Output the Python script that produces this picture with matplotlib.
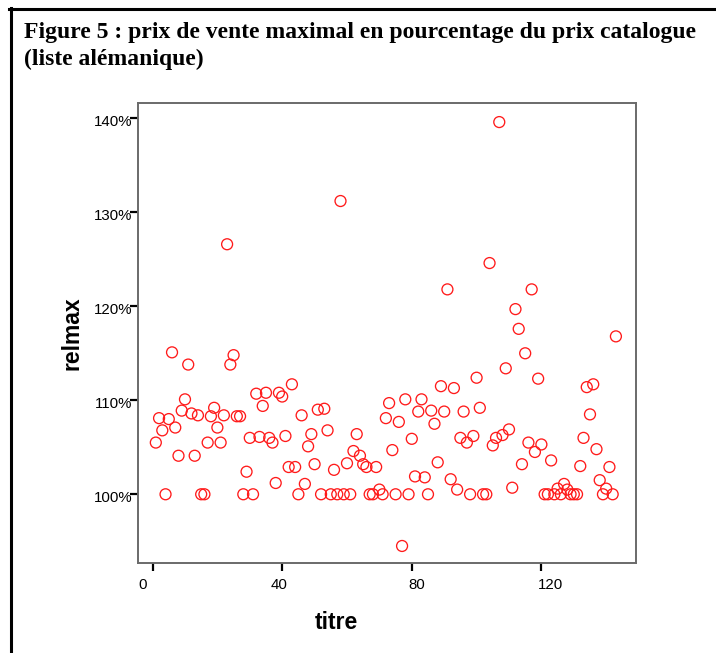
import matplotlib
matplotlib.use("Agg")
import matplotlib.pyplot as plt
from matplotlib.lines import Line2D
from matplotlib.transforms import ScaledTranslation
from matplotlib.ticker import FixedLocator, FuncFormatter

# ---------------- data ----------------
title_line1 = "Figure 5 : prix de vente maximal en pourcentage du prix catalogue"
title_line2 = "(liste alémanique)"
x_label = "titre"
y_label = "relmax"

relmax = [
    105.5, 108.1, 106.8, 100.0, 108.0, 115.1, 107.1, 104.1, 108.9, 110.1,
    113.8, 108.6, 104.1, 108.4, 100.0, 100.0, 105.5, 108.3, 109.2, 107.1,
    105.5, 108.4, 126.6, 113.8, 114.8, 108.3, 108.3, 100.0, 102.4, 106.0,
    100.0, 110.7, 106.1, 109.4, 110.8, 106.0, 105.5, 101.2, 110.8, 110.4,
    106.2, 102.9, 111.7, 102.9, 100.0, 108.4, 101.1, 105.1, 106.4, 103.2,
    109.0, 100.0, 109.1, 106.8, 100.0, 102.6, 100.0, 131.2, 100.0, 103.3,
    100.0, 104.6, 106.4, 104.1, 103.2, 102.9, 100.0, 100.0, 102.9, 100.5,
    100.0, 108.1, 109.7, 104.7, 100.0, 107.7, 94.5, 110.1, 100.0, 105.9,
    101.9, 108.8, 110.1, 101.8, 100.0, 108.9, 107.5, 103.4, 111.5, 108.8,
    121.8, 101.6, 111.3, 100.5, 106.0, 108.8, 105.5, 100.0, 106.2, 112.4,
    109.2, 100.0, 100.0, 124.6, 105.2, 106.0, 139.6, 106.3, 113.4, 106.9,
    100.7, 119.7, 117.6, 103.2, 115.0, 105.5, 121.8, 104.5, 112.3, 105.3,
    100.0, 100.0, 103.6, 100.0, 100.6, 100.0, 101.1, 100.5, 100.0, 100.0,
    100.0, 103.0, 106.0, 111.4, 108.5, 111.7, 104.8, 101.5, 100.0, 100.6,
    102.9, 100.0, 116.8,
]
titre = [
    1, 2, 3, 4, 5, 6, 7, 8, 9, 10, 11, 12, 13, 14, 15, 16, 17, 18, 19, 20,
    21, 22, 23, 24, 25, 26, 27, 28, 29, 30, 31, 32, 33, 34, 35, 36, 37, 38, 39, 40,
    41, 42, 43, 44, 45, 46, 47, 48, 49, 50, 51, 52, 53, 54, 55, 56, 57, 58, 59, 60,
    61, 62, 63, 64, 65, 66, 67, 68, 69, 70, 71, 72, 73, 74, 75, 76, 77, 78, 79, 80,
    81, 82, 83, 84, 85, 86, 87, 88, 89, 90, 91, 92, 93, 94, 95, 96, 97, 98, 99, 100,
    101, 102, 103, 104, 105, 106, 107, 108, 109, 110, 111, 112, 113, 114, 115, 116,
    117, 118, 119, 120, 121, 122, 123, 124, 125, 126, 127, 128, 129, 130, 131, 132,
    133, 134, 135, 136, 137, 138, 139, 140, 141, 142, 143,
]
x_ticks = [0, 40, 80, 120]
y_ticks = [100, 110, 120, 130, 140]

# ---------------- figure ----------------
W, H = 716, 653
DPI = 100
fig = plt.figure(figsize=(W / DPI, H / DPI), dpi=DPI)
fig.patch.set_facecolor("white")

def px_x(v):
    return v / W

def px_y(v):
    return 1 - v / H

# page frame (top and left rules)
fig.add_artist(Line2D([px_x(9), px_x(716)], [px_y(8.5), px_y(8.5)],
                      transform=fig.transFigure, color="black", lw=2.2))
fig.add_artist(Line2D([px_x(10.5), px_x(10.5)], [px_y(7.5), px_y(653)],
                      transform=fig.transFigure, color="black", lw=2.2))

# title
tfont = dict(family=["Liberation Serif", "DejaVu Serif"], weight="bold",
             size=17.0, color="black")
fig.text(px_x(24), px_y(38), title_line1, ha="left", va="baseline", **tfont)
fig.text(px_x(24), px_y(65), title_line2, ha="left", va="baseline", **tfont)

# axes
left, right, top, bottom = 138, 636, 102.7, 562.7
ax = fig.add_axes([left / W, 1 - bottom / H, (right - left) / W, (bottom - top) / H])
ax.set_facecolor("white")

ax.scatter(titre, relmax, s=62, facecolors="none", edgecolors="#ff1a1a",
           linewidths=0.95, zorder=3)

ax.set_xlim(-4.5, 149.2)
ax.set_ylim(92.72, 141.66)

for sp in ax.spines.values():
    sp.set_color("#6a6a6a")
    sp.set_linewidth(1.4)

ax.xaxis.set_major_locator(FixedLocator(x_ticks))
ax.yaxis.set_major_locator(FixedLocator(y_ticks))
ax.yaxis.set_major_formatter(FuncFormatter(lambda v, p: f"{int(round(v))}%"))

tick_font = ["Liberation Sans", "DejaVu Sans"]
ax.tick_params(axis="both", direction="out", length=5.5, width=1.6,
               color="black", labelcolor="black", labelsize=10.8)
ax.tick_params(axis="y", pad=-1.6)
ax.tick_params(axis="x", pad=5.5)
for lab in ax.get_xticklabels() + ax.get_yticklabels():
    lab.set_family(tick_font)

# reproduce the slight offsets of the x tick labels from their ticks
x_label_shift_px = [-10.0, -3.0, 4.6, 8.9]
for lab, dx in zip(ax.get_xticklabels(), x_label_shift_px):
    lab.set_transform(lab.get_transform() + ScaledTranslation(dx / DPI, 0, fig.dpi_scale_trans))
for lab in ax.get_yticklabels():
    lab.set_transform(lab.get_transform() + ScaledTranslation(0, -2 / DPI, fig.dpi_scale_trans))

lfont = dict(family=["Liberation Sans", "DejaVu Sans"], weight="bold", size=16.5)
ax.set_xlabel(x_label, va="center", **lfont)
ax.set_ylabel(y_label, va="center", **lfont)
ax.xaxis.set_label_coords((336.6 - left) / (right - left), -(622.7 - bottom) / (bottom - top))
ax.yaxis.set_label_coords(-(left - 71.5) / (right - left), 0.5)

fig.savefig("out.png", dpi=DPI, facecolor="white")
